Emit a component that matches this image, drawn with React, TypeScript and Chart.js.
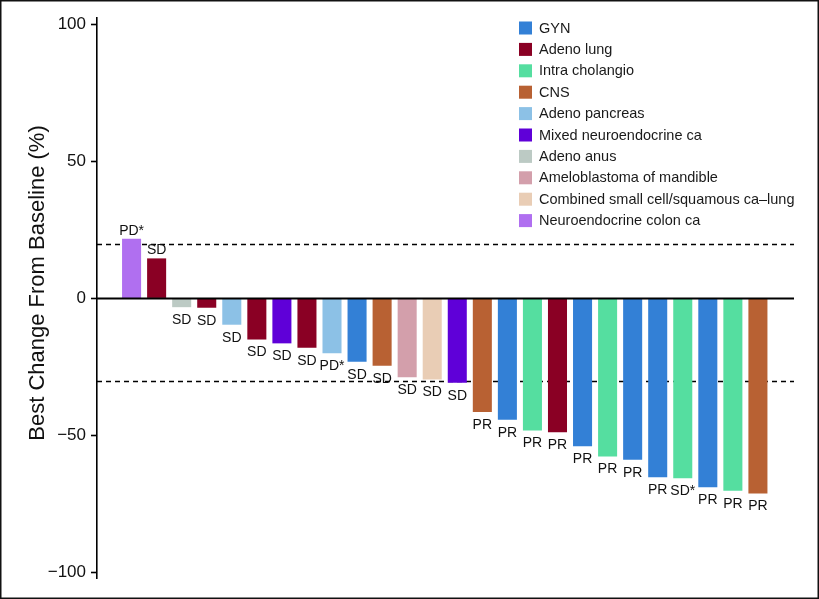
import React, { useEffect, useRef } from "react";
import { Chart, registerables } from "chart.js";

Chart.register(...registerables);

const tumorTypes = [
  "GYN",
  "Adeno lung",
  "Intra cholangio",
  "CNS",
  "Adeno pancreas",
  "Mixed neuroendocrine ca",
  "Adeno anus",
  "Ameloblastoma of mandible",
  "Combined small cell/squamous ca\u2013lung",
  "Neuroendocrine colon ca",
];

const typeColors = [
  "#3380d6",
  "#8a0024",
  "#55dea0",
  "#b86133",
  "#8cc1e6",
  "#5f00d8",
  "#bccac4",
  "#d39fab",
  "#e9cdb5",
  "#b06ff0",
];

const barTypes = [
  "Neuroendocrine colon ca",
  "Adeno lung",
  "Adeno anus",
  "Adeno lung",
  "Adeno pancreas",
  "Adeno lung",
  "Mixed neuroendocrine ca",
  "Adeno lung",
  "Adeno pancreas",
  "GYN",
  "CNS",
  "Ameloblastoma of mandible",
  "Combined small cell/squamous ca\u2013lung",
  "Mixed neuroendocrine ca",
  "CNS",
  "GYN",
  "Intra cholangio",
  "Adeno lung",
  "GYN",
  "Intra cholangio",
  "GYN",
  "GYN",
  "Intra cholangio",
  "GYN",
  "Intra cholangio",
  "CNS",
];

const bestChange = [
  21.8, 14.6, -3.2, -3.4, -9.6, -15.0, -16.4, -18.0, -20.0, -23.1, -24.6, -28.8,
  -29.6, -30.8, -41.4, -44.3, -48.2, -48.8, -53.9, -57.7, -58.9, -65.2, -65.6,
  -68.9, -70.2, -71.2,
];

const responses = [
  "PD*", "SD", "SD", "SD", "SD", "SD", "SD", "SD", "PD*", "SD", "SD", "SD", "SD",
  "SD", "PR", "PR", "PR", "PR", "PR", "PR", "PR", "PR", "SD*", "PR", "PR", "PR",
];

const yTicks = [-100, -50, 0, 50, 100];
const refLines = [20, -30];
const yTitle = "Best Change From Baseline (%)";

const FONT = "'Liberation Sans', Arial, Helvetica, sans-serif";

const overlayPlugin = {
  id: "overlay",
  beforeDatasetsDraw(chart: any) {
    const { ctx, chartArea, scales } = chart;
    const y = scales.y;
    ctx.save();
    ctx.strokeStyle = "#000";
    ctx.lineWidth = 1.6;
    ctx.setLineDash([5, 4]);
    refLines.forEach((v) => {
      const py = Math.round(y.getPixelForValue(v)) + 0.5;
      ctx.beginPath();
      ctx.moveTo(chartArea.left, py);
      ctx.lineTo(chartArea.right, py);
      ctx.stroke();
    });
    ctx.restore();
  },
  afterDatasetsDraw(chart: any) {
    const { ctx, chartArea, scales } = chart;
    const y = scales.y;
    ctx.save();
    // zero line
    ctx.strokeStyle = "#000";
    ctx.lineWidth = 2;
    const y0 = y.getPixelForValue(0);
    ctx.beginPath();
    ctx.moveTo(chartArea.left, y0);
    ctx.lineTo(chartArea.right, y0);
    ctx.stroke();

    // bar labels
    const meta = chart.getDatasetMeta(0);
    ctx.font = `14px ${FONT}`;
    ctx.fillStyle = "#111";
    ctx.textAlign = "center";
    meta.data.forEach((bar: any, i: number) => {
      const v = bestChange[i];
      if (v >= 0) {
        ctx.textBaseline = "bottom";
        ctx.fillText(responses[i], bar.x, bar.y - 1);
      } else {
        ctx.textBaseline = "top";
        ctx.fillText(responses[i], bar.x, bar.y + 6);
      }
    });

    // legend
    ctx.textAlign = "left";
    ctx.textBaseline = "middle";
    ctx.font = `14.5px ${FONT}`;
    tumorTypes.forEach((t, i) => {
      const cy = 28 + i * 21.4;
      ctx.fillStyle = typeColors[i];
      ctx.fillRect(519, cy - 6.5, 13, 13);
      ctx.fillStyle = "#1a1a1a";
      ctx.fillText(t, 539, cy + 0.5);
    });

    // y title
    ctx.save();
    ctx.translate(44, (chartArea.top + chartArea.bottom) / 2 - 15);
    ctx.rotate(-Math.PI / 2);
    ctx.font = `22px ${FONT}`;
    ctx.fillStyle = "#111";
    ctx.textAlign = "center";
    ctx.textBaseline = "alphabetic";
    ctx.fillText(yTitle, 0, 0);
    ctx.restore();

    // frame
    ctx.strokeStyle = "#111";
    ctx.lineWidth = 1.5;
    ctx.setLineDash([]);
    ctx.strokeRect(0.75, 0.75, chart.width - 1.5, chart.height - 1.5);
    ctx.restore();
  },
};

export default function App() {
  const ref = useRef<HTMLCanvasElement | null>(null);

  useEffect(() => {
    document.body.style.margin = "0";
    const canvas = ref.current;
    if (!canvas) return;
    const colorOf = (t: string) => typeColors[tumorTypes.indexOf(t)];
    const chart = new Chart(canvas, {
      type: "bar",
      data: {
        datasets: [
          {
            data: bestChange.map((v, i) => ({ x: i + 1, y: v })),
            backgroundColor: barTypes.map(colorOf),
            borderWidth: 0,
            barPercentage: 0.76,
            categoryPercentage: 1,
          },
        ],
      },
      options: {
        animation: false,
        responsive: false,
        maintainAspectRatio: false,
        layout: { padding: { top: 18, bottom: 21, right: 25, left: 0 } },
        plugins: {
          legend: { display: false },
          tooltip: { enabled: false },
        },
        scales: {
          x: {
            type: "linear",
            display: false,
            offset: false,
            min: -0.38,
            max: 27.44,
          },
          y: {
            min: -102,
            max: 102.3,
            afterBuildTicks: (scale: any) => {
              scale.ticks = yTicks.map((v) => ({ value: v }));
            },
            afterFit: (scale: any) => {
              scale.width = 97;
            },
            border: { display: true, color: "#000", width: 1.6 },
            grid: {
              drawOnChartArea: false,
              drawTicks: true,
              tickLength: 6,
              tickWidth: 1.6,
              color: "#000",
            },
            ticks: {
              padding: 5,
              color: "#111",
              font: { family: FONT, size: 17 },
              callback: (v: any) => (Number(v) < 0 ? "\u2212" + Math.abs(Number(v)) : String(v)),
            },
          },
        },
      },
      plugins: [overlayPlugin],
    });
    return () => chart.destroy();
  }, []);

  return (
    <div style={{ width: 819, height: 599, background: "#fff" }}>
      <canvas ref={ref} width={819} height={599} style={{ display: "block" }} />
    </div>
  );
}
